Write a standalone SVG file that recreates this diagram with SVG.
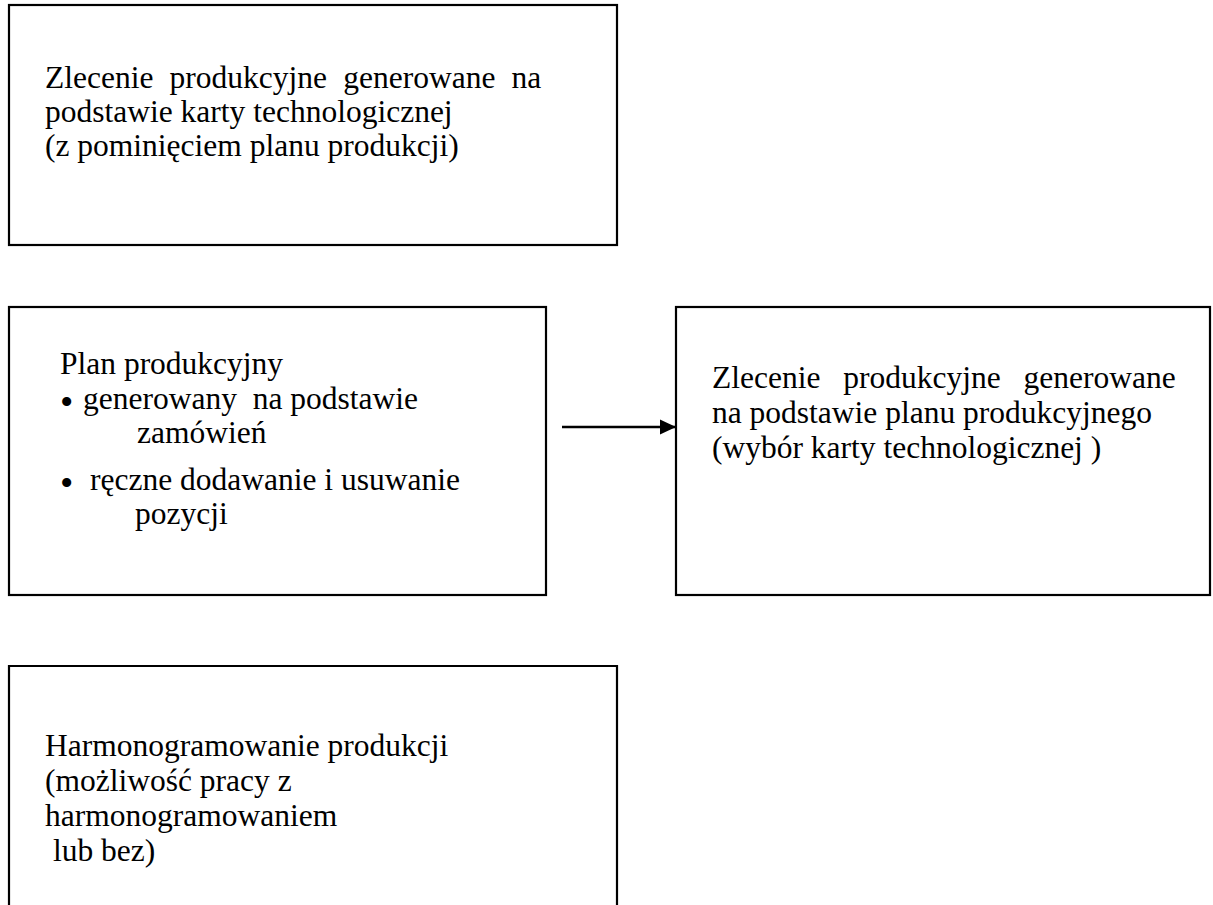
<svg xmlns="http://www.w3.org/2000/svg" width="1213" height="905" viewBox="0 0 1213 905">
<defs>
<style>
.box{fill:#fff;stroke:#000;stroke-width:2.2}
.t{font-family:"Liberation Serif","Times New Roman",serif;font-size:31.5px;fill:#000}
.b{font-family:"Liberation Serif","Times New Roman",serif;font-size:38px;fill:#000}
.conn{stroke:#000;stroke-width:2.4;fill:none}
</style>
<marker id="ah" markerWidth="16" markerHeight="16" refX="16" refY="8" orient="auto" markerUnits="userSpaceOnUse">
<path d="M0,0.5 L16,8 L0,15.5 Z" fill="#000"/>
</marker>
</defs>
<rect width="1213" height="905" fill="#fff"/>
<g id="node-zlecenie-karta">
<rect class="box" x="9" y="5" width="608" height="240"/>
<text class="t" x="45" y="88" word-spacing="8.3">Zlecenie produkcyjne generowane na</text>
<text class="t" x="45" y="122">podstawie karty technologicznej</text>
<text class="t" x="45" y="156">(z pominięciem planu produkcji)</text>
</g>
<g id="node-plan">
<rect class="box" x="9" y="307" width="537" height="288"/>
<text class="t" x="60" y="374">Plan produkcyjny</text>
<text class="b" x="60" y="415">•</text>
<text class="t" x="83" y="409" xml:space="preserve">generowany  na podstawie</text>
<text class="t" x="137" y="443">zamówień</text>
<text class="b" x="60" y="496">•</text>
<text class="t" x="90" y="490">ręczne dodawanie i usuwanie</text>
<text class="t" x="135" y="524">pozycji</text>
</g>
<g id="node-zlecenie-plan">
<rect class="box" x="676" y="307" width="534" height="288"/>
<text class="t" x="712" y="388" word-spacing="15">Zlecenie produkcyjne generowane</text>
<text class="t" x="712" y="423">na podstawie planu produkcyjnego</text>
<text class="t" x="712" y="458">(wybór karty technologicznej )</text>
</g>
<g id="node-harmonogram">
<path class="box" d="M9,915 L9,666 L617,666 L617,915"/>
<text class="t" x="45" y="756">Harmonogramowanie produkcji</text>
<text class="t" x="45" y="791">(możliwość pracy z</text>
<text class="t" x="45" y="826">harmonogramowaniem</text>
<text class="t" x="45" y="861" xml:space="preserve"> lub bez)</text>
</g>
<g id="connectors">
<line class="conn" x1="562" y1="427" x2="676" y2="427" marker-end="url(#ah)"/>
</g>
</svg>
